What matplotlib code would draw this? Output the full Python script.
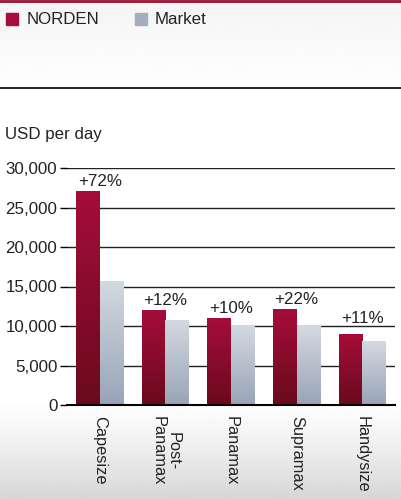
import numpy as np
import matplotlib
matplotlib.use("Agg")
import matplotlib.pyplot as plt
from matplotlib.colors import LinearSegmentedColormap
from matplotlib.patches import Rectangle
from matplotlib.lines import Line2D

plt.rcParams['font.family'] = ['Liberation Sans', 'DejaVu Sans']

categories = ["Capesize", "Post-\nPanamax", "Panamax", "Supramax", "Handysize"]
norden = [27100, 12000, 11000, 12200, 9000]
market = [15700, 10800, 10100, 10000, 8100]
pct_labels = ["+72%", "+12%", "+10%", "+22%", "+11%"]
yticks = [0, 5000, 10000, 15000, 20000, 25000, 30000]

W, H = 401, 499
fig = plt.figure(figsize=(W / 100, H / 100), dpi=100)

# figure background gradient
bg = fig.add_axes([0, 0, 1, 1], zorder=-10)
bg.set_axis_off()
ys = np.linspace(0, 1, 500)  # 0 = top
vals = np.ones_like(ys)
top = ys < 88 / H
vals[top] = 0.955 + 0.045 * (ys[top] / (88 / H))
bot = ys > 400 / H
vals[bot] = 1.0 - 0.16 * ((ys[bot] - 400 / H) / (99 / H)) ** 1.2
img = np.repeat(vals[:, None], 2, axis=1)
bg.imshow(img, cmap='gray', vmin=0, vmax=1, aspect='auto', extent=[0, 1, 0, 1])
bg.set_xlim(0, 1)
bg.set_ylim(0, 1)
fig.add_artist(Line2D([0, 1], [1 - 1 / H, 1 - 1 / H], color='#a0102f', lw=2, transform=fig.transFigure))
fig.add_artist(Line2D([0, 1], [1 - 88 / H, 1 - 88 / H], color='black', lw=1.2, transform=fig.transFigure))

def fx(px): return px / W
def fy(py): return 1 - py / H

FS = 12.2
fig.add_artist(Rectangle((fx(6), fy(25)), 12 / W, 12 / H, color='#a50d3a', transform=fig.transFigure))
fig.text(fx(27), fy(19), "NORDEN", fontsize=FS, va='center', ha='left', color='#222222')
fig.add_artist(Rectangle((fx(135), fy(25)), 12 / W, 12 / H, color='#a3adbd', transform=fig.transFigure))
fig.text(fx(155), fy(19), "Market", fontsize=FS, va='center', ha='left', color='#222222')
fig.text(fx(5), fy(135), "USD per day", fontsize=FS, va='center', ha='left', color='#222222')

ax_left, ax_right, ax_top, ax_bot = 67, 395, 168, 405
ax = fig.add_axes([fx(ax_left), fy(ax_bot), (ax_right - ax_left) / W, (ax_bot - ax_top) / H])
ax.patch.set_alpha(0)
for s in ['top', 'right', 'left']:
    ax.spines[s].set_visible(False)
ax.spines['bottom'].set_linewidth(1.5)
ax.spines['bottom'].set_zorder(5)
ax.set_yticks(yticks)
ax.set_yticklabels([f"{v:,}" for v in yticks], fontsize=FS, color='#222222')
ax.tick_params(axis='y', length=5, width=1, pad=2)
ax.tick_params(axis='x', length=0, pad=8)
for v in yticks[1:]:
    ax.axhline(v, color='#222222', lw=1, zorder=0.5)

cm_n = LinearSegmentedColormap.from_list('n', ['#6a0a1c', '#a50d3a'])
cm_m = LinearSegmentedColormap.from_list('m', ['#98a4b6', '#d4d9e1'])
grad = np.linspace(0, 1, 256)[:, None]

label_offsets = [250, 250, 250, 250, 1000]
bw = 0.36
x = np.arange(len(categories))
for i in range(len(categories)):
    for xs, val, cm in [(x[i] - bw, norden[i], cm_n), (x[i], market[i], cm_m)]:
        r = Rectangle((xs, 0), bw, val, facecolor='none', edgecolor='none')
        ax.add_patch(r)
        im = ax.imshow(grad, cmap=cm, aspect='auto', origin='lower',
                       extent=[xs, xs + bw, 0, val], zorder=2)
        im.set_clip_path(r)
    ax.text(x[i], norden[i] + label_offsets[i], pct_labels[i], ha='center', va='bottom',
            fontsize=FS, color='#222222', zorder=3)

ax.set_xlim(-0.5, len(categories) - 0.5)
ax.set_ylim(0, 30000)
ax.set_xticks(x)
ax.set_xticklabels(categories, rotation=270, fontsize=11.8, color='#222222',
                   va='top', ha='center', linespacing=1.0)

fig.savefig("out.png", dpi=100)
